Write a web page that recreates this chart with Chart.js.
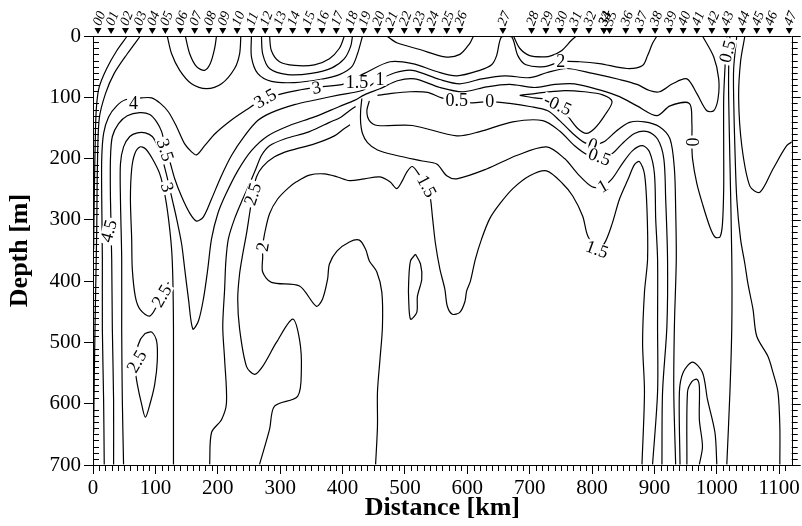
<!DOCTYPE html>
<html><head><meta charset="utf-8">
<script src="https://cdn.jsdelivr.net/npm/chart.js@4.4.1/dist/chart.umd.min.js"></script>
<style>html,body{margin:0;padding:0;background:#fff;}canvas{display:block;}</style>
</head><body>
<canvas id="c" width="802" height="526"></canvas>
<script>
// contour lines: [distance km, depth m]
const lineA1 = [[55,0],[38,24],[22,53],[10,83],[6,110],[4,151],[2,266],[1,348]];
const lineA2 = [[76,0],[55,29],[34,61],[20,94],[10,135],[7,217],[6,315],[4,429],[2,560],[1,647]];
const lineA = [[18,699],[17,593],[15,478],[15,364],[14,266],[14,200],[17,159],[25,132],[38,114],[52,104],[78,101],[94,101],[108,110],[121,124],[134,148],[147,176],[158,189],[166,194],[179,179],[196,159],[222,137],[248,119],[262,110],[293,97],[326,89],[363,83],[403,78],[435,61],[476,42],[512,45],[551,58],[583,65],[620,56],[639,47],[647,32],[655,1],[671,1],[681,32],[694,47],[724,50],[750,42],[780,42],[812,45],[856,53],[881,48],[889,32],[897,12],[904,0]];
const lineB = [[33,699],[33,593],[31,478],[30,364],[28,266],[28,200],[31,164],[41,143],[55,130],[75,125],[91,128],[102,140],[110,156],[116,181],[123,204],[131,233],[142,262],[155,289],[166,302],[177,295],[190,266],[205,230],[222,195],[243,163],[264,138],[286,125],[323,112],[358,104],[395,96],[431,89],[456,73],[484,60],[512,56],[556,71],[588,78],[623,70],[660,65],[700,68],[727,60],[759,53],[801,61],[844,71],[872,79],[892,89],[908,91],[929,78],[952,70],[968,94],[984,122],[995,122],[1002,102],[1003,70],[995,34],[977,0]];
const lineC = [[49,699],[47,593],[46,478],[46,364],[44,266],[44,209],[49,181],[59,164],[71,158],[84,158],[95,164],[103,178],[111,200],[118,227],[123,249],[128,271],[134,298],[142,339],[147,380],[153,429],[160,478],[169,465],[177,429],[184,380],[190,331],[200,290],[213,258],[232,220],[254,187],[280,163],[315,146],[355,132],[395,115],[419,105],[435,96],[460,86],[488,73],[516,70],[556,84],[593,91],[631,83],[668,79],[708,84],[740,79],[772,78],[812,88],[844,99],[872,114],[904,130],[925,114],[956,110],[960,143],[960,173],[961,200],[968,241],[977,274],[989,312],[997,328],[1005,328],[1009,307],[1011,249],[1011,184],[1011,102],[1013,53],[1016,0]];
const lineD = [[129,699],[129,593],[129,478],[128,397],[126,348],[121,298],[115,258],[107,225],[95,200],[84,184],[75,181],[67,192],[62,217],[60,266],[62,331],[63,380],[68,426],[76,447],[91,457],[102,441],[110,421],[118,408],[121,402]];
const loopE = [[84,485],[94,483],[102,498],[103,531],[99,568],[92,598],[84,622],[78,601],[71,568],[68,544],[70,514],[76,495],[84,485]];
const uLeftInner = [[148,0],[155,29],[166,50],[179,56],[188,45],[195,20],[198,0]];
const uLeftOuter = [[119,0],[126,29],[139,56],[158,78],[182,86],[206,78],[227,53],[235,29],[237,0]];
const uRightInner = [[283,0],[286,24],[299,42],[323,48],[355,47],[379,37],[395,20],[403,0]];
const uRightMid = [[270,0],[272,29],[283,53],[312,63],[350,61],[383,52],[403,37],[413,17],[416,0]];
const uRightOuter = [[254,0],[254,34],[264,61],[286,74],[323,76],[363,71],[395,63],[415,50],[424,29],[432,0]];
const uTop2 = [[471,0],[487,11],[524,22],[564,34],[588,30],[604,12],[610,0]];
const uTop3 = [[674,0],[684,20],[700,32],[724,34],[735,32],[751,24],[767,7],[775,0]];
const lineF = [[187,699],[190,647],[206,626],[214,598],[211,528],[208,474],[211,413],[213,367],[217,331],[227,298],[240,266],[251,241],[261,217],[270,195],[283,179],[307,168],[347,156],[379,141],[398,132],[411,122],[421,115]];
const lineH = [[267,699],[283,642],[291,604],[328,588],[334,544],[331,495],[320,462],[294,500],[272,539],[259,552],[246,539],[235,478],[232,429],[235,388],[240,356],[246,323],[251,290],[256,258],[262,230],[272,213],[291,197],[315,187],[355,176],[387,163],[403,151],[412,145]];
const lineG = [[453,699],[456,637],[456,581],[460,528],[464,474],[463,418],[455,385],[443,367],[437,348],[427,333],[411,336],[391,351],[379,372],[376,397],[368,429],[358,441],[331,408],[286,402],[272,385],[272,361],[272,344],[275,323],[283,290],[296,266],[312,249],[326,238],[347,227],[371,225],[392,230],[411,236],[435,233],[460,230],[476,238],[487,249],[496,236],[503,222],[512,213],[524,228],[535,245],[541,266],[544,294],[549,339],[556,380],[564,413],[568,441],[576,454],[588,451],[596,434],[599,416],[605,400],[613,364],[623,331],[636,298],[652,274],[673,249],[700,228],[727,220],[753,241],[769,261],[785,294],[793,326],[808,348],[820,338],[832,307],[844,266],[858,233],[868,210],[876,205],[884,225],[888,282],[889,364],[884,418],[881,500],[884,581],[880,699]];
const tongueT = [[517,356],[509,367],[506,402],[506,429],[509,462],[519,451],[520,425],[527,397],[525,372],[517,356]];
const lineK2 = [[431,102],[429,122],[429,141],[432,159],[440,174],[456,186],[487,195],[528,204],[551,209],[567,228],[583,233],[631,217],[679,195],[727,181],[756,200],[777,225],[800,246],[817,245],[832,233],[848,209],[865,187],[881,179],[892,189],[900,225],[902,298],[905,364],[905,473],[905,581],[897,699]];
const lineK1 = [[443,106],[439,122],[443,138],[456,146],[512,146],[583,163],[620,156],[673,140],[721,138],[748,155],[772,179],[793,194],[812,197],[832,192],[848,176],[868,159],[889,156],[905,168],[915,200],[918,266],[921,364],[920,473],[913,581],[912,699]];
const lineM0 = [[456,97],[476,94],[508,91],[536,92],[559,101],[583,105],[607,109],[636,107],[668,110],[700,115],[729,122],[748,138],[769,159],[788,174],[801,177],[820,172],[839,155],[860,141],[884,140],[908,148],[925,168],[932,217],[934,282],[935,364],[932,473],[931,581],[934,699]];
const loopL05 = [[684,97],[724,92],[756,89],[788,91],[817,96],[832,107],[820,130],[804,151],[791,159],[777,151],[762,132],[748,115],[729,104],[708,101],[684,97]];
const lineR3 = [[1021,0],[1019,53],[1019,102],[1021,205],[1024,364],[1024,473],[1021,581],[1016,699]];
const lineR2 = [[1032,0],[1027,53],[1027,102],[1029,184],[1032,266],[1038,331],[1045,372],[1050,405],[1058,446],[1064,490],[1082,523],[1090,549],[1098,581],[1101,637],[1101,699]];
const lineR1 = [[1045,0],[1038,42],[1035,102],[1040,179],[1053,245],[1069,255],[1090,217],[1112,179],[1122,172]];
const loopOuter = [[941,699],[940,581],[946,549],[961,532],[977,549],[985,593],[997,647],[1000,699]];
const loopInner = [[952,699],[953,581],[960,564],[968,560],[972,572],[972,626],[977,670],[972,699]];

const contours = [lineA1,lineA2,lineA,lineB,lineC,lineD,loopE,uLeftInner,uLeftOuter,uRightInner,uRightMid,uRightOuter,uTop2,uTop3,lineF,lineH,lineG,tongueT,lineK2,lineK1,lineM0,loopL05,lineR3,lineR2,lineR1,loopOuter,loopInner];

// contour labels
const labelText  = ["4.5","4","3.5","3","2.5","2.5","3.5","3","2.5","2","1.5","1","0.5","0","-0.5","2","0","0.5","1","1.5","1.5","0","0.5"];
const labelKm    = [25,65,116,119,110,70,276,358,256,272,423,460,583,636,745,750,801,812,817,808,535,960,1017];
const labelDepth = [318,109,186,247,424,531,102,84,258,344,76,70,105,107,112,42,177,197,245,348,245,173,25];
const labelAngle = [-75,0,72,72,-60,-60,-30,-10,-72,-80,0,0,0,0,25,0,20,20,-30,20,62,90,-75];

// stations along the section
const stationKm = [8,29,52,74,95,116,140,163,186,208,231,254,276,298,320,344,367,390,413,434,456,477,499,521,543,567,588,657,703,726,749,772,795,819,819,828,854,877,901,924,946,968,992,1015,1041,1064,1085,1116];
const stationNames = ["00","01","02","03","04","05","06","07","08","09","10","11","12","13","14","15","16","17","18","19","20","21","22","23","24","25","26","27","28","29","30","31","32","33","34","35","36","37","38","39","40","41","42","43","44","45","46","47"];

const xTickValues = [0,100,200,300,400,500,600,700,800,900,1000,1100];
const yTickValues = [0,100,200,300,400,500,600,700];
const xMinorStep = 10, yMinorStep = 10;

const serif = "'Liberation Serif','Times New Roman',serif";

const overlay = {
  id: 'overlay',
  afterDatasetsDraw(chart) {
    const {ctx, scales: {x, y}} = chart;
    ctx.save();
    ctx.font = "18px " + serif;
    ctx.textAlign = 'center';
    ctx.textBaseline = 'middle';
    for (let i = 0; i < labelText.length; i++) {
      const px = x.getPixelForValue(labelKm[i]);
      const py = y.getPixelForValue(labelDepth[i]);
      ctx.save();
      ctx.translate(px, py);
      ctx.rotate(labelAngle[i] * Math.PI / 180);
      const w = ctx.measureText(labelText[i]).width;
      ctx.fillStyle = '#fff';
      ctx.fillRect(-w / 2 - 2, -7, w + 4, 14);
      ctx.fillStyle = '#000';
      ctx.fillText(labelText[i], 0, 1);
      ctx.restore();
    }
    ctx.restore();
  },
  afterDraw(chart) {
    const {ctx, chartArea: a, scales: {x, y}} = chart;
    ctx.save();
    ctx.strokeStyle = '#000';
    ctx.lineWidth = 1;
    ctx.beginPath();
    for (let v = xMinorStep; v < x.max; v += xMinorStep) {
      if (xTickValues.includes(v)) continue;
      const px = Math.round(x.getPixelForValue(v)) + 0.5;
      ctx.moveTo(px, a.bottom); ctx.lineTo(px, a.bottom + 6);
    }
    for (let v = yMinorStep; v < y.max; v += yMinorStep) {
      if (yTickValues.includes(v)) continue;
      const py = Math.round(y.getPixelForValue(v)) + 0.5;
      ctx.moveTo(a.left, py); ctx.lineTo(a.left + 6, py);
      ctx.moveTo(a.right, py); ctx.lineTo(a.right + 6, py);
    }
    for (const v of yTickValues) {
      const py = Math.round(y.getPixelForValue(v)) + 0.5;
      ctx.moveTo(a.right, py); ctx.lineTo(a.right + 9, py);
    }
    ctx.moveTo(a.left, Math.round(a.top) + 0.5); ctx.lineTo(a.right, Math.round(a.top) + 0.5);
    ctx.moveTo(Math.round(a.right) + 0.5, a.top); ctx.lineTo(Math.round(a.right) + 0.5, a.bottom);
    ctx.stroke();

    ctx.fillStyle = '#000';
    for (let i = 0; i < stationKm.length; i++) {
      const px = x.getPixelForValue(stationKm[i]);
      ctx.beginPath();
      ctx.moveTo(px - 3.5, a.top - 8);
      ctx.lineTo(px + 3.5, a.top - 8);
      ctx.lineTo(px, a.top - 2);
      ctx.closePath();
      ctx.fill();
      ctx.save();
      ctx.translate(px - 1, a.top - 11);
      ctx.rotate(-68 * Math.PI / 180);
      ctx.font = "italic 14px " + serif;
      ctx.textAlign = 'left';
      ctx.textBaseline = 'middle';
      ctx.fillText(stationNames[i], 0, 0);
      ctx.restore();
    }
    ctx.restore();
  }
};

new Chart(document.getElementById('c'), {
  type: 'scatter',
  data: {
    datasets: contours.map(c => ({
      data: c.map(p => ({x: p[0], y: p[1]})),
      showLine: true,
      borderColor: '#000',
      borderWidth: 1.2,
      pointRadius: 0,
      pointHoverRadius: 0,
      tension: 0.3,
      fill: false
    }))
  },
  options: {
    responsive: false,
    animation: false,
    devicePixelRatio: 1,
    events: [],
    layout: {padding: {top: 36, right: 10, left: 0, bottom: 0}},
    plugins: {legend: {display: false}, tooltip: {enabled: false}},
    scales: {
      x: {
        type: 'linear', position: 'bottom', min: 0, max: 1120,
        afterBuildTicks: s => { s.ticks = xTickValues.map(v => ({value: v})); },
        afterFit: s => { s.height = 61; },
        ticks: {color: '#000', font: {family: serif, size: 21}, padding: 2, maxRotation: 0, autoSkip: false, callback: v => String(v)},
        grid: {display: true, drawOnChartArea: false, drawTicks: true, tickLength: 9, color: '#000', lineWidth: 1},
        border: {display: true, color: '#000', width: 1},
        title: {display: true, text: 'Distance [km]', color: '#000', font: {family: serif, size: 26, weight: 'bold'}, padding: {top: 0, bottom: 2}}
      },
      y: {
        type: 'linear', position: 'left', reverse: true, min: 0, max: 700,
        afterBuildTicks: s => { s.ticks = yTickValues.map(v => ({value: v})); },
        afterFit: s => { s.width = 93; },
        ticks: {color: '#000', font: {family: serif, size: 21}, padding: 3, callback: v => String(v)},
        grid: {display: true, drawOnChartArea: false, drawTicks: true, tickLength: 9, color: '#000', lineWidth: 1},
        border: {display: true, color: '#000', width: 1},
        title: {display: true, text: 'Depth [m]', color: '#000', font: {family: serif, size: 26, weight: 'bold'}, padding: {top: 5, bottom: 0}}
      }
    }
  },
  plugins: [overlay]
});
</script>
</body></html>
